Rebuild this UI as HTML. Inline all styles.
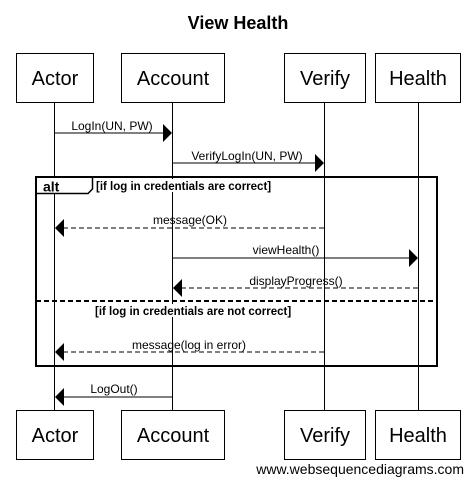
<!DOCTYPE html>
<html><head><meta charset="utf-8"><style>
html,body{margin:0;padding:0;background:#fff;}
svg{display:block;font-family:"Liberation Sans",Arial,sans-serif;}
</style></head><body>
<svg width="475" height="483" viewBox="0 0 475 483" xmlns="http://www.w3.org/2000/svg">
<text x="238" y="29" font-size="18" font-weight="bold" text-anchor="middle">View Health</text>
<g stroke="#000" stroke-width="1">
<line x1="54.5" y1="102" x2="54.5" y2="410"/>
<line x1="172.5" y1="102" x2="172.5" y2="410"/>
<line x1="324.5" y1="102" x2="324.5" y2="410"/>
<line x1="418.5" y1="102" x2="418.5" y2="410"/>
</g>
<g fill="#fff" stroke="#000" stroke-width="1">
<rect x="16.5" y="53.5" width="77" height="49"/>
<rect x="121.5" y="53.5" width="103" height="49"/>
<rect x="284.5" y="53.5" width="81" height="49"/>
<rect x="375.5" y="53.5" width="85" height="49"/>
<rect x="16.5" y="410.5" width="77" height="49"/>
<rect x="121.5" y="410.5" width="103" height="49"/>
<rect x="284.5" y="410.5" width="81" height="49"/>
<rect x="375.5" y="410.5" width="85" height="49"/>
</g>
<g font-size="20" text-anchor="middle">
<text x="55" y="85">Actor</text><text x="173" y="85">Account</text><text x="325" y="85">Verify</text><text x="418" y="85">Health</text>
<text x="55" y="442">Actor</text><text x="173" y="442">Account</text><text x="325" y="442">Verify</text><text x="418" y="442">Health</text>
</g>
<rect x="36" y="177" width="401" height="189" fill="none" stroke="#000" stroke-width="2"/>
<rect x="37" y="178" width="55" height="15" fill="#fff"/>
<path d="M36 193.5 H88 L92.5 189 V177" fill="none" stroke="#000" stroke-width="1.5"/>
<text x="43" y="191.5" font-size="14" font-weight="bold">alt</text>
<rect x="95" y="179" width="226" height="13" fill="#fff"/>
<text x="96" y="190" font-size="11.5" font-weight="bold">[if log in credentials are correct]</text>
<line x1="36" y1="301" x2="437" y2="301" stroke="#000" stroke-width="2" stroke-dasharray="5,3"/>
<rect x="94" y="304" width="224" height="13" fill="#fff"/>
<text x="95" y="315" font-size="11.5" font-weight="bold">[if log in credentials are not correct]</text>
<g font-size="12" text-anchor="middle">
<text x="112" y="130">LogIn(UN, PW)</text>
<text x="247" y="160">VerifyLogIn(UN, PW)</text>
<text x="190" y="224">message(OK)</text>
<text x="286" y="254">viewHealth()</text>
<text x="296" y="285">displayProgress()</text>
<text x="189" y="349">message(log in error)</text>
<text x="114" y="393">LogOut()</text>
</g>
<g stroke="#000" stroke-width="1">
<line x1="54" y1="133" x2="163" y2="133"/>
<line x1="172" y1="163" x2="315" y2="163"/>
<line x1="324" y1="228" x2="63" y2="228" stroke-dasharray="5,3"/>
<line x1="172" y1="258" x2="409" y2="258"/>
<line x1="418" y1="288" x2="181" y2="288" stroke-dasharray="5,3"/>
<line x1="324" y1="352" x2="63" y2="352" stroke-dasharray="5,3"/>
<line x1="172" y1="397" x2="63" y2="397"/>
</g>
<g fill="#000">
<polygon points="163,124 172,133 163,142"/>
<polygon points="315,154 324,163 315,172"/>
<polygon points="64,219 55,228 64,237"/>
<polygon points="409,249 418,258 409,267"/>
<polygon points="182,279 173,288 182,297"/>
<polygon points="64,343 55,352 64,361"/>
<polygon points="64,388 55,397 64,406"/>
</g>
<text x="464" y="474" font-size="14" text-anchor="end">www.websequencediagrams.com</text>
</svg>
</body></html>
